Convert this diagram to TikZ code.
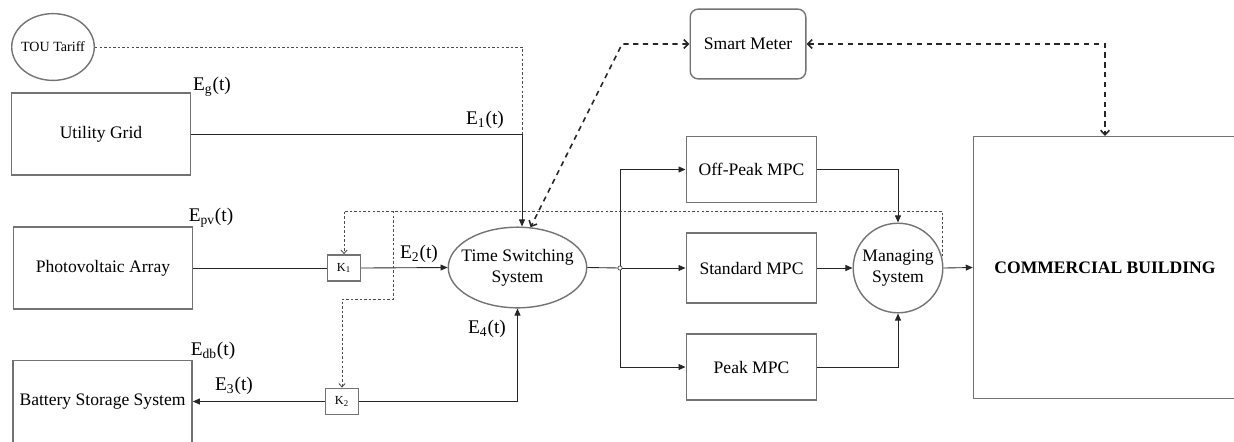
\documentclass[tikz,border=0pt]{standalone}
\usepackage{fontspec}
\setmainfont{Liberation Serif}
\usetikzlibrary{arrows.meta, shapes.geometric}

\tikzset{
  block/.style={draw=black!55, line width=0.8pt, rectangle, align=center,
    font=\fontsize{10}{12}\selectfont},
  source/.style={block, minimum width=102pt, minimum height=46.5pt},
  mpc/.style={block, minimum width=74.3pt, minimum height=37.5pt},
  switchbox/.style={block, minimum width=18.7pt, minimum height=15pt,
    inner sep=0pt, font=\fontsize{7}{8}\selectfont},
  oval/.style={draw=black!55, line width=0.8pt, ellipse, align=center,
    inner xsep=-5pt, font=\fontsize{10}{12}\selectfont},
  elabel/.style={inner sep=0pt, font=\fontsize{11}{13}\selectfont},
  wire/.style={draw=black!85, line width=0.5pt},
  flow/.style={wire, -{Triangle[length=4pt,width=3.4pt]}},
  ctrl/.style={draw=black!70, line width=0.5pt, dash pattern=on 1.4pt off 1.2pt},
  meter/.style={draw=black!85, line width=0.9pt, dash pattern=on 3pt off 2.6pt,
    {Straight Barb[length=2.6pt,width=5pt]}-{Straight Barb[length=2.6pt,width=5pt]}}
}

\begin{document}
\begin{tikzpicture}[x=0.02cm, y=-0.02cm]

  \useasboundingbox (0,0) rectangle (1234,441);
  \clip (0,0) rectangle (1234,441);

  % sources on the left
  \node [oval, minimum width=47pt, minimum height=38pt, inner xsep=-3pt,
    font=\fontsize{8}{10}\selectfont] (tou) at (53,47) {TOU Tariff};
  \node [source] (ug)  at (101,134) {Utility Grid};
  \node [source] (pv)  at (103,268) {Photovoltaic Array};
  \node [source] (bss) at (102.5,401.5) {Battery Storage System};

  \node [elabel] (eg)  at (212,87)  {E\textsubscript{g}(t)};
  \node [elabel] (epv) at (211,218) {E\textsubscript{pv}(t)};
  \node [elabel] (edb) at (213,351) {E\textsubscript{db}(t)};

  % switches
  \node [switchbox] (k1) at (344,268)   {K\textsubscript{1}};
  \node [switchbox] (k2) at (342,401.5) {K\textsubscript{2}};

  % time switching
  \node [oval, minimum width=78.8pt, minimum height=45.9pt] (tss) at (517.5,267.5)
    {Time Switching\\System};

  \node [elabel] (e1) at (485,120) {E\textsubscript{1}(t)};
  \node [elabel] (e2) at (419,254) {E\textsubscript{2}(t)};
  \node [elabel] (e3) at (234,386) {E\textsubscript{3}(t)};
  \node [elabel] (e4) at (487,329) {E\textsubscript{4}(t)};

  % controllers
  \node [mpc] (op)  at (751.5,169.5) {Off-Peak MPC};
  \node [mpc, minimum height=39.7pt] (std) at (751.5,268) {Standard MPC};
  \node [mpc] (pk)  at (751.5,367) {Peak MPC};

  \node [block, circle, minimum size=51pt, inner sep=1pt] (mgr) at (898,268)
    {Managing\\System};

  \node [block, rounded corners=4.5pt, minimum width=65.8pt, minimum height=39.7pt]
    (sm) at (748,44) {Smart Meter};

  \node [block, minimum width=149.7pt, minimum height=149pt,
    font=\fontsize{10}{12}\selectfont\bfseries] (cb) at (1105,267.5)
    {COMMERCIAL BUILDING};

  \node [draw=black!70, fill=white, circle, inner sep=0pt, minimum size=2.4pt,
    line width=0.4pt] (jn) at (620,268) {};

  \coordinate (ugbend) at (522,134);
  \coordinate (fbk) at (344,211);
  \coordinate (fbsplit) at (393,211);
  \coordinate (k2split) at (342,299);
  \coordinate (smbend) at (622,44);

  % energy flows
  \draw [wire] (ug.east) -- (ugbend);
  \draw [flow] (ugbend) -- (ugbend |- tss.north);
  \draw [wire] (pv.east) -- (k1.west);
  \draw [flow] (k1.east) -- (tss.west);
  \draw [flow] (k2.east) -| (tss.south);
  \draw [flow] (k2.west) -- (bss.east);

  \draw [wire] (tss.east) -- (jn);
  \draw [flow] (jn) |- (op.west);
  \draw [flow] (jn) -- (std.west);
  \draw [flow] (jn) |- (pk.west);

  \draw [flow] (op.east) -| (mgr.north);
  \draw [flow] (std.east) -- (mgr.west);
  \draw [flow] (pk.east) -| (mgr.south);
  \draw [flow] (mgr.east) -- (cb.west);

  % tariff and switch control
  \draw [ctrl] (tou.east) -| (ugbend);
  \draw [ctrl, -{Straight Barb[length=2pt,width=3.6pt]}] (mgr.15) |- (fbk) -- (k1.north);
  \draw [ctrl, -{Straight Barb[length=2pt,width=3.6pt]}] (fbsplit) |- (k2split) -- (k2.north);

  % metering
  \draw [meter] (sm.west) -- (smbend) -- (tss.72);
  \draw [meter] (sm.east) -| (cb.north);

\end{tikzpicture}
\end{document}
